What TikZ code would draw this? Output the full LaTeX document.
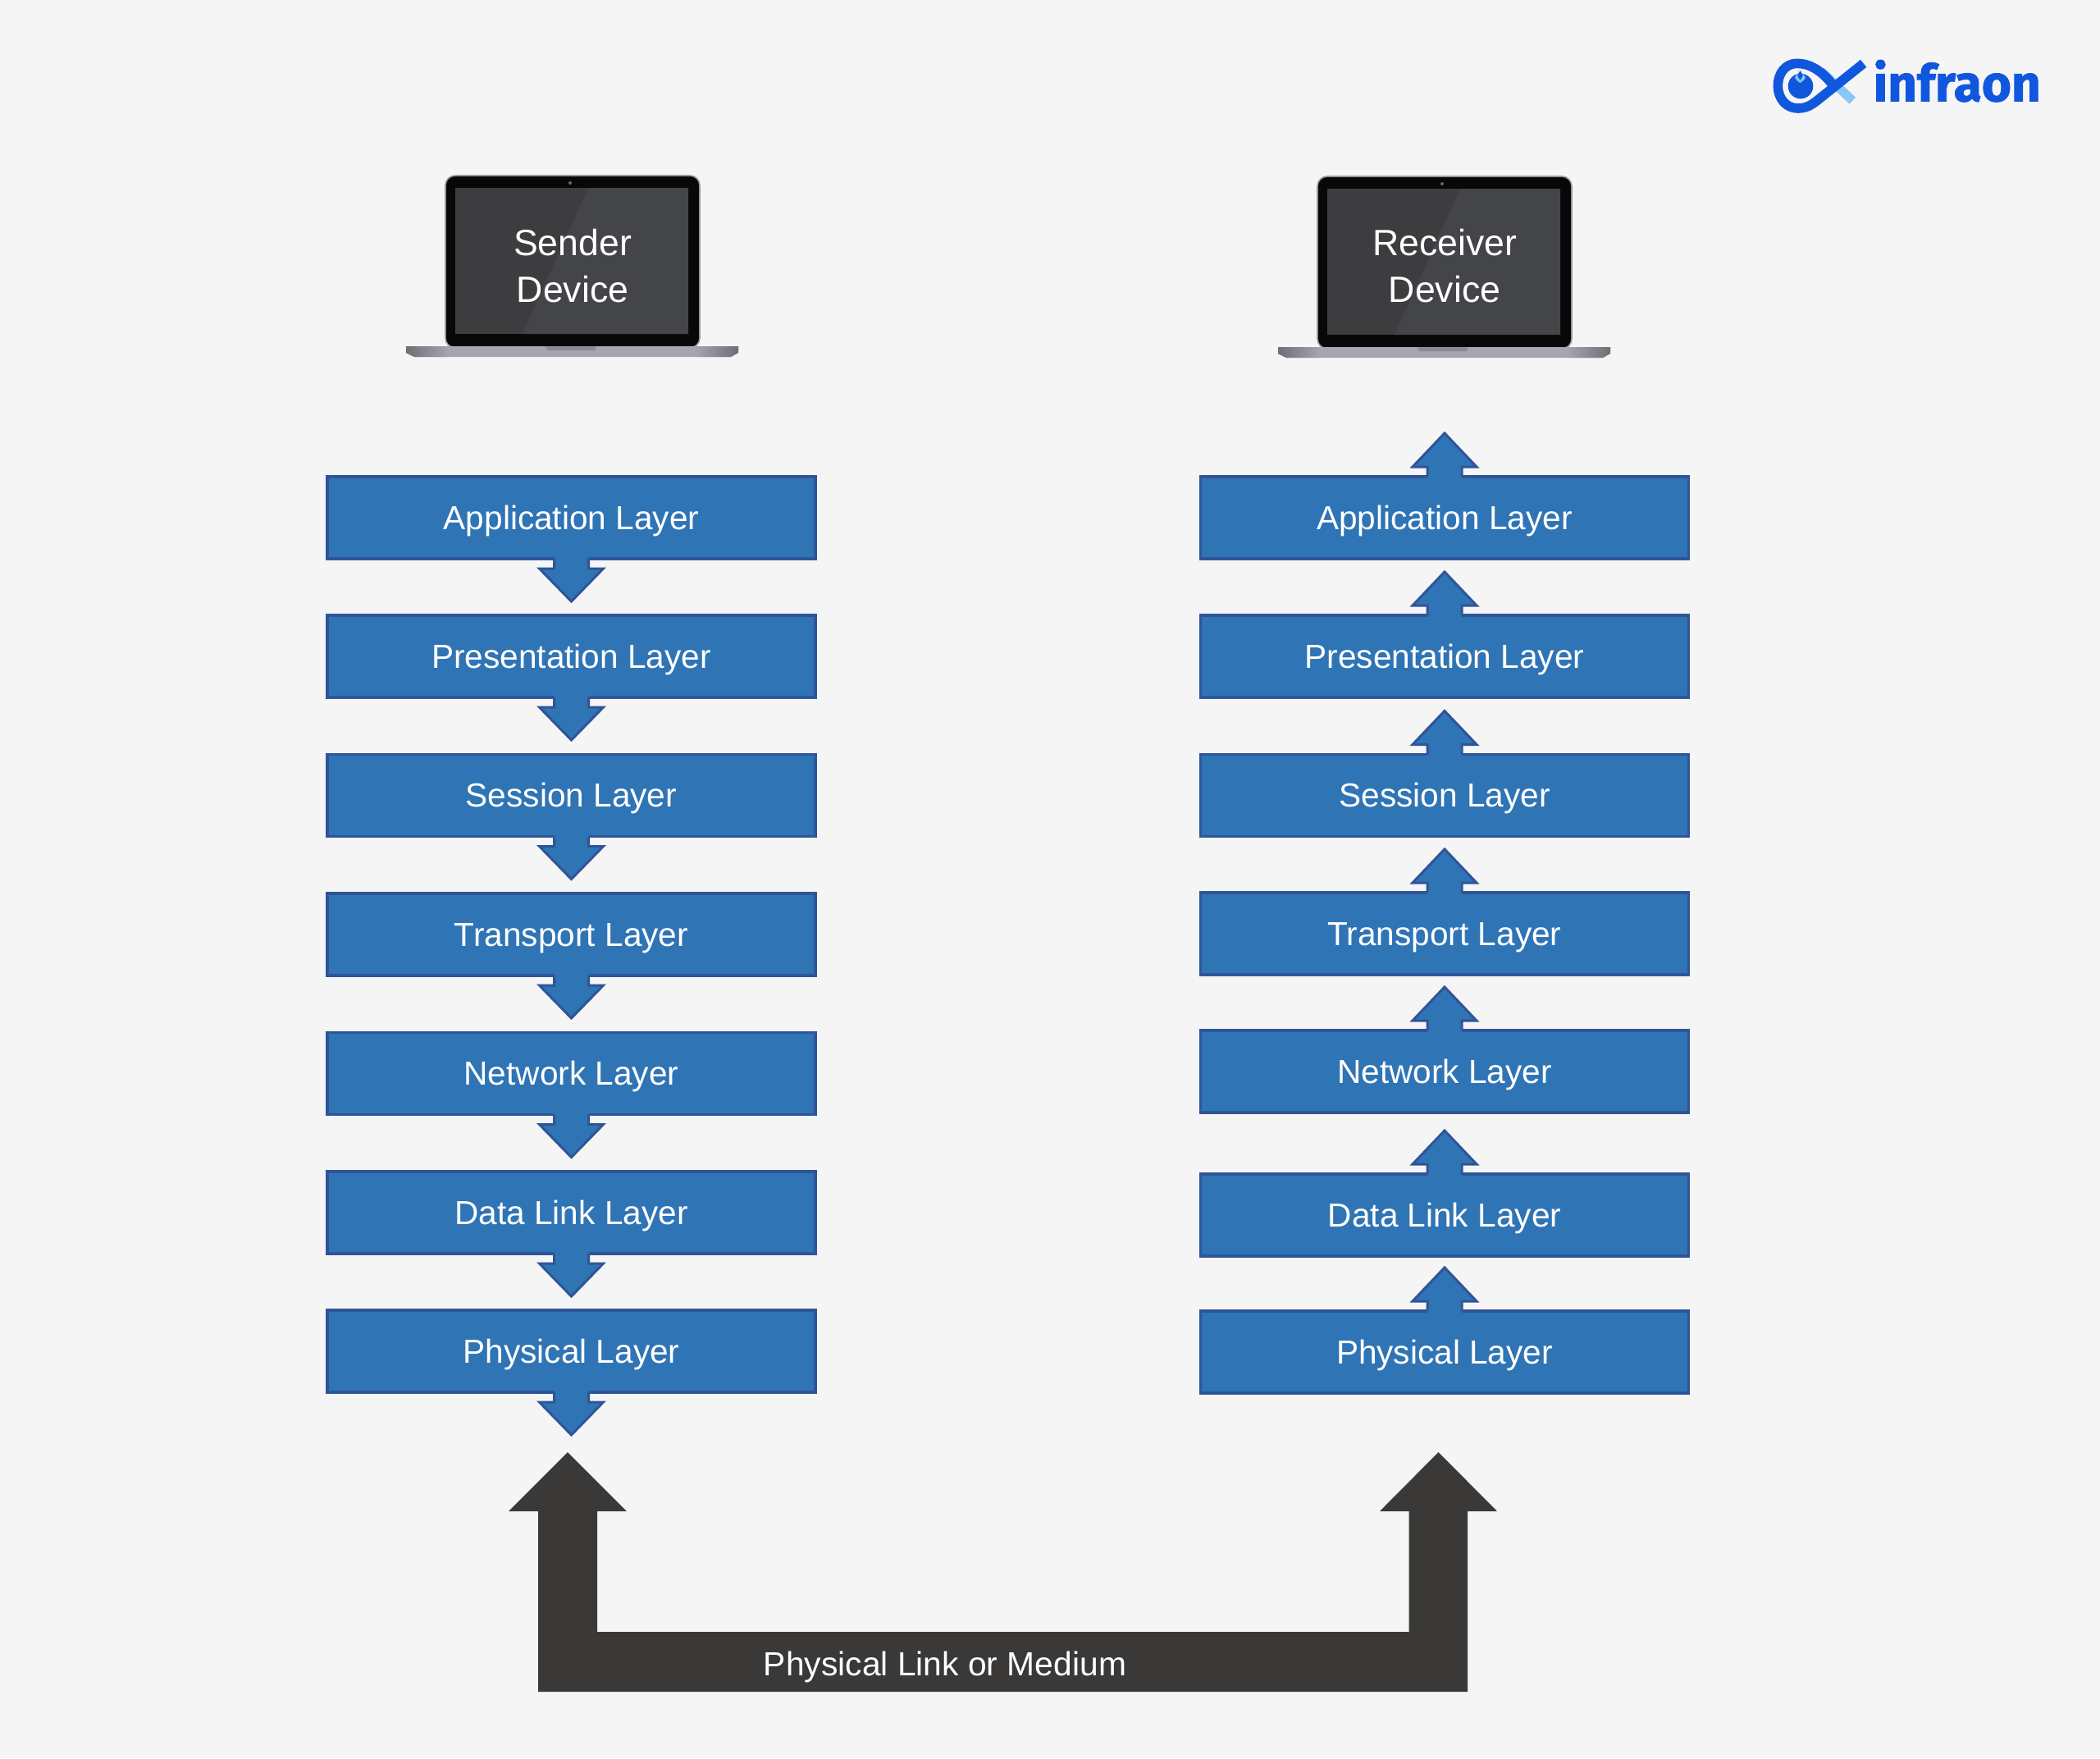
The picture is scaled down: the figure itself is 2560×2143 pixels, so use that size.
\documentclass[tikz,border=0pt]{standalone}
\usepackage{fontspec}
\setmainfont{Liberation Sans}
\newfontfamily\logofont[BoldFeatures={FakeBold=1.5}]{Fira Sans}
\definecolor{bgc}{HTML}{F5F5F6}
\definecolor{boxfill}{HTML}{2F74B5}
\definecolor{boxline}{HTML}{2F5597}
\definecolor{linkc}{HTML}{3B3838}
\definecolor{logoblue}{HTML}{1157DE}
\definecolor{logolight}{HTML}{8CC6F7}
\definecolor{scr}{HTML}{3D3D3F}
\definecolor{scrb}{HTML}{434549}
\definecolor{basec}{HTML}{A4A6B0}
\definecolor{based}{HTML}{6E6F76}
\tikzset{
  layerbox/.style={draw=boxline,line width=1.6pt,fill=boxfill,text=white,minimum width=297.5pt,minimum height=50pt,inner sep=0pt,outer sep=0pt,text height=14.4pt,text depth=0pt,font=\fontsize{20.3}{24}\selectfont},
  lbl/.style={text=white,inner sep=0pt,align=center,font=\fontsize{22.3}{28.5}\selectfont},
  arrowfill/.style={fill=boxfill},
  arrowline/.style={draw=boxline,line width=1.5pt,line join=miter},
}
% down arrow leaving the bottom of box #1
\newcommand{\dnarrow}[1]{%
  \fill[arrowfill] ([shift={(-21,6)}]#1.south) -- ([shift={(-21,-12)}]#1.south) -- ([shift={(-39,-12)}]#1.south) -- ([shift={(0,-52)}]#1.south) -- ([shift={(39,-12)}]#1.south) -- ([shift={(21,-12)}]#1.south) -- ([shift={(21,6)}]#1.south) -- cycle;
  \draw[arrowline] ([shift={(-21,0)}]#1.south) -- ([shift={(-21,-12)}]#1.south) -- ([shift={(-39,-12)}]#1.south) -- ([shift={(0,-52)}]#1.south) -- ([shift={(39,-12)}]#1.south) -- ([shift={(21,-12)}]#1.south) -- ([shift={(21,0)}]#1.south);
}
% up arrow leaving the top of box #1
\newcommand{\uparrowto}[1]{%
  \fill[arrowfill] ([shift={(-21,-6)}]#1.north) -- ([shift={(-21,12)}]#1.north) -- ([shift={(-39,12)}]#1.north) -- ([shift={(0,53)}]#1.north) -- ([shift={(39,12)}]#1.north) -- ([shift={(21,12)}]#1.north) -- ([shift={(21,-6)}]#1.north) -- cycle;
  \draw[arrowline] ([shift={(-21,0)}]#1.north) -- ([shift={(-21,12)}]#1.north) -- ([shift={(-39,12)}]#1.north) -- ([shift={(0,53)}]#1.north) -- ([shift={(39,12)}]#1.north) -- ([shift={(21,12)}]#1.north) -- ([shift={(21,0)}]#1.north);
}
% laptop centred on x=#1, with vertical shift #2
\newcommand{\laptop}[2]{%
  \begin{scope}[shift={(#1,#2)}]
    \fill[black!97,draw=black!40,line width=0.8pt,rounded corners=6pt] (-154,-424) -- (-154,-214) -- (156,-214) -- (156,-424) -- cycle;
    \fill[scr] (-142,-229) rectangle (142,-407);
    \fill[scrb] (20,-229) -- (142,-229) -- (142,-407) -- (-60,-407) -- cycle;
    \fill[black!60] (-2,-223) circle (2);
    \fill[basec] (-202,-422) -- (203,-422) -- (203,-430) -- (194,-435) -- (-192,-435) -- (-202,-430) -- cycle;
    \shade[left color=based,right color=basec] (-202,-422) -- (-150,-422) -- (-150,-435) -- (-192,-435) -- (-202,-430) -- cycle;
    \shade[left color=basec,right color=based] (150,-422) -- (203,-422) -- (203,-430) -- (194,-435) -- (150,-435) -- cycle;
    \fill[basec!85!black] (-32,-422) -- (30,-422) -- (28,-427) -- (-30,-427) -- cycle;
  \end{scope}
}
\begin{document}
\begin{tikzpicture}[x=0.5pt,y=0.5pt]
\useasboundingbox (0,0) rectangle (2560,-2143);
\fill[bgc] (0,0) rectangle (2560,-2143);

% laptops
\laptop{697}{0}
\laptop{1760}{-1}
\node[lbl] (sender) at (698,-324.5) {Sender\\Device};
\node[lbl] (receiver) at (1761,-324.5) {Receiver\\Device};

% left stack
\foreach \nm/\txt/\yy in {la/Application Layer/631,lb/Presentation Layer/800,lc/Session Layer/969.5,ld/Transport Layer/1139,le/Network Layer/1308.5,lf/Data Link Layer/1478,lg/Physical Layer/1647}{
  \node[layerbox] (\nm) at (696.5,-\yy) {\txt};
  \dnarrow{\nm}
}

% right stack
\foreach \nm/\txt/\yy in {ra/Application Layer/631,rb/Presentation Layer/800,rc/Session Layer/969.5,rd/Transport Layer/1138,re/Network Layer/1306,rf/Data Link Layer/1481,rg/Physical Layer/1648}{
  \node[layerbox] (\nm) at (1761,-\yy) {\txt};
  \uparrowto{\nm}
}

% physical link
\coordinate (tipl) at (692,-1770);
\coordinate (tipr) at (1753.5,-1770);
\fill[linkc] (tipl) -- (764,-1842) -- (728,-1842) -- (728,-1989) -- (1717.5,-1989) -- (1717.5,-1842) -- (1682,-1842) -- (tipr) -- (1825,-1842) -- (1789,-1842) -- (1789,-2062) -- (656,-2062) -- (656,-1842) -- (620,-1842) -- cycle;
\node[text=white,inner sep=0pt,text height=14.4pt,text depth=0pt,font=\fontsize{20.4}{24}\selectfont] (link) at (1152,-2028) {Physical Link or Medium};

% logo
\begin{scope}[shift={(2120,-40)},x=0.16667pt,y=0.16667pt]
  \draw[logolight,line width=5.5pt] (300,-140) -- (415,-248);
  \draw[logoblue,line width=5.8pt,line join=round] (342,-190) .. controls (300,-135) and (255,-112) .. (212,-112) .. controls (168,-112) and (142,-150) .. (142,-194) .. controls (142,-240) and (172,-276) .. (215,-276) .. controls (245,-276) and (265,-264) .. (285,-248) -- (455,-112);
  \fill[logoblue] (225,-195) circle (46);
  \fill[logolight,rounded corners=4pt] (205,-145) -- (205,-182) -- (242,-182) -- (242,-145) -- cycle;
  \fill[logoblue,rounded corners=3pt] (214,-140) -- (214,-172) -- (233,-172) -- (233,-140) -- cycle;
  \node[anchor=base west,text=logoblue,inner sep=0pt,font=\logofont\bfseries\fontsize{31}{36}\selectfont] (brand) at (490,-250) {infraon};
\end{scope}
\end{tikzpicture}
\end{document}
